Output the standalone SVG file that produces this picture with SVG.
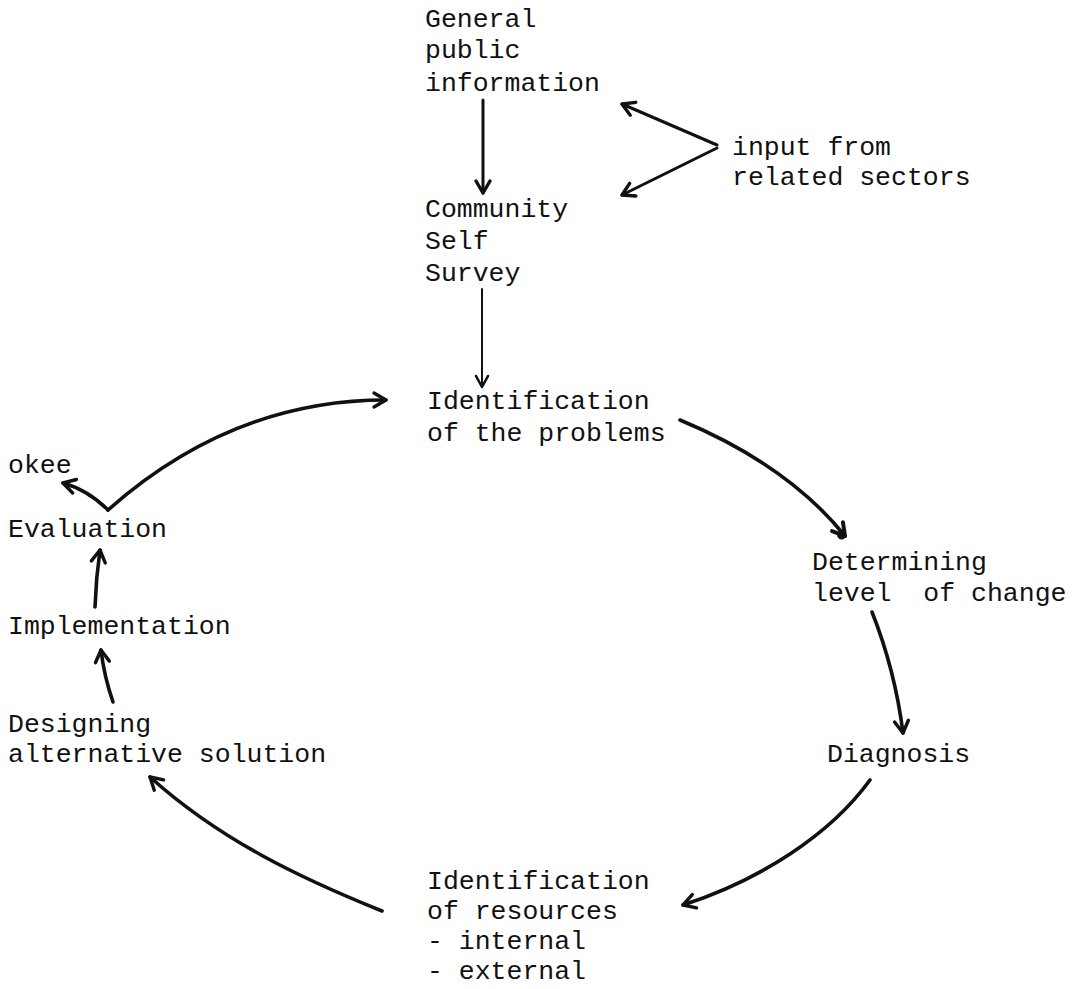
<svg xmlns="http://www.w3.org/2000/svg" width="1073" height="989" viewBox="0 0 1073 989">
  <style>
    text { font-family: "Liberation Mono", "DejaVu Sans Mono", monospace; font-size: 26.5px; fill: #111; }
    .link { fill: none; stroke: #111; stroke-linecap: round; stroke-linejoin: round; }
    .heavy { stroke-width: 3.6; }
    .medium { stroke-width: 3; }
    .thin { stroke-width: 2; }
  </style>
  <defs>
    <marker id="head" markerUnits="userSpaceOnUse" viewBox="-16 -10 20 20" refX="0" refY="0" markerWidth="20" markerHeight="20" orient="auto">
      <path d="M-12,-7 L0,0 L-12,7" fill="none" stroke="#111" stroke-width="3.4" stroke-linecap="round" stroke-linejoin="round"/>
    </marker>
    <marker id="headThin" markerUnits="userSpaceOnUse" viewBox="-16 -10 20 20" refX="0" refY="0" markerWidth="20" markerHeight="20" orient="auto">
      <path d="M-11,-6 L0,0 L-11,6" fill="none" stroke="#111" stroke-width="2.6" stroke-linecap="round" stroke-linejoin="round"/>
    </marker>
    <marker id="headBlob" markerUnits="userSpaceOnUse" viewBox="-16 -10 20 20" refX="0" refY="0" markerWidth="20" markerHeight="20" orient="auto">
      <path d="M-12,-7 L0,0 L-12,7" fill="none" stroke="#111" stroke-width="4" stroke-linecap="round" stroke-linejoin="round"/>
      <circle cx="-3" cy="2" r="4.5" fill="#111"/>
    </marker>
  </defs>

  <!-- connectors -->
  <g id="connectors">
    <path class="link medium" d="M483,100 L483,193" marker-end="url(#head)"/>
    <path class="link medium" d="M717,145 L622,104" marker-end="url(#head)"/>
    <path class="link medium" d="M717,148 L622,195" marker-end="url(#head)"/>
    <path class="link thin" d="M482,289 L482,387" marker-end="url(#headThin)"/>
    <path class="link heavy" d="M680,420 C740,445 800,480 845,536" marker-end="url(#headBlob)"/>
    <path class="link heavy" d="M872,612 Q895,670 903,733" marker-end="url(#head)"/>
    <path class="link heavy" d="M870,780 C830,835 760,880 683,905" marker-end="url(#head)"/>
    <path class="link heavy" d="M382,911 C300,878 220,840 150,777" marker-end="url(#head)"/>
    <path class="link heavy" d="M113,702 Q104,676 101,650" marker-end="url(#head)"/>
    <path class="link heavy" d="M95,607 Q96,578 100,550" marker-end="url(#head)"/>
    <path class="link heavy" d="M108,510 Q88,490 63,483" marker-end="url(#head)"/>
    <path class="link heavy" d="M108,510 C170,455 260,400 386,400" marker-end="url(#head)"/>
  </g>

  <!-- nodes -->
  <g id="general-public-information">
    <text x="425" y="27">General</text>
    <text x="425" y="58">public</text>
    <text x="425" y="91">information</text>
  </g>
  <g id="related-sectors">
    <text x="732" y="155">input from</text>
    <text x="732" y="185">related sectors</text>
  </g>
  <g id="community-self-survey">
    <text x="425" y="217">Community</text>
    <text x="425" y="249">Self</text>
    <text x="425" y="281">Survey</text>
  </g>
  <g id="identification-problems">
    <text x="427" y="409">Identification</text>
    <text x="427" y="441">of the problems</text>
  </g>
  <g id="level-of-change">
    <text x="812" y="570">Determining</text>
    <text x="812" y="601" xml:space="preserve">level  of change</text>
  </g>
  <g id="diagnosis">
    <text x="827" y="762">Diagnosis</text>
  </g>
  <g id="identification-resources">
    <text x="427" y="889">Identification</text>
    <text x="427" y="919">of resources</text>
    <text x="427" y="949">- internal</text>
    <text x="427" y="979">- external</text>
  </g>
  <g id="designing">
    <text x="8" y="732">Designing</text>
    <text x="8" y="762">alternative solution</text>
  </g>
  <g id="implementation">
    <text x="8" y="634">Implementation</text>
  </g>
  <g id="evaluation">
    <text x="8" y="537">Evaluation</text>
  </g>
  <g id="okee">
    <text x="8" y="473">okee</text>
  </g>
</svg>
